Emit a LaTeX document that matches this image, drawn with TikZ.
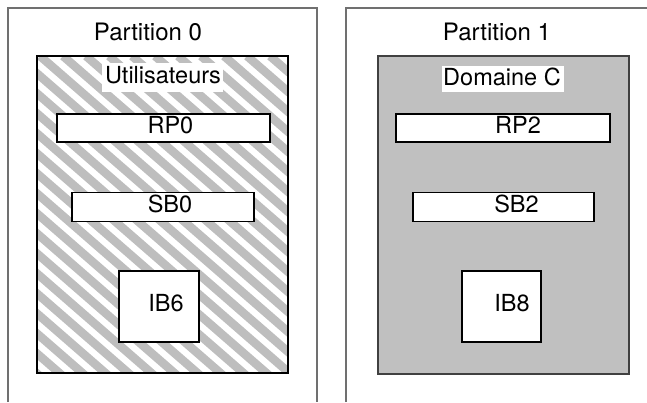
\documentclass[tikz,border=0pt]{standalone}
\usepackage{fontspec}
\setmainfont{TeX Gyre Heros}
\definecolor{stripe}{HTML}{BEBEBE}
\definecolor{domfill}{HTML}{C0C0C0}
\definecolor{outerline}{HTML}{707070}
\begin{document}
\begin{tikzpicture}[x=1pt,y=-1pt,
  outerpanel/.style={draw=outerline,line width=1.4pt},
  innerbox/.style={draw=black,line width=1.1pt,fill=white,inner sep=0pt},
  txt/.style={inner sep=0pt,anchor=base,font=\fontsize{23.5}{27}\selectfont},
  ptxt/.style={inner sep=0pt,anchor=base,font=\fontsize{24}{28}\selectfont},
  tag/.style={fill=white,draw=none,inner sep=0pt}]
\useasboundingbox (0,0) rectangle (647,402);
% outer panels (open at bottom)
\draw[outerpanel] (8,402) -- (8,8) -- (317,8) -- (317,402);
\draw[outerpanel] (346,402) -- (346,8) -- (650,8);
\node[ptxt] (p0) at (148,40) {Partition 0};
\node[ptxt] (p1) at (497,40) {Partition 1};
% hatched region
\begin{scope}
  \clip (37,56) rectangle (288,373);
  \foreach \k in {-20,...,14}{
    \draw[stripe,line width=8.5pt] (40+23*\k,56) -- ++(400,348);
  }
\end{scope}
\node[draw=black,line width=1.1pt,inner sep=0pt,minimum width=251pt,minimum height=317pt] (users) at (162.5,214.5) {};
% gray region
\node[draw=black!75,line width=1.1pt,fill=domfill,inner sep=0pt,minimum width=251pt,minimum height=318pt] (domc) at (503.5,215) {};
% tags
\node[tag,minimum width=121pt,minimum height=29pt] (utag) at (162.5,77.5) {};
\node[txt] (utxt) at (163,83.3) {Utilisateurs};
\node[tag,minimum width=122pt,minimum height=26pt] (dtag) at (503,79) {};
\node[txt] (dtxt) at (502,85) {Domaine C};
% left boxes
\node[innerbox,minimum width=213pt,minimum height=28pt] (rp0) at (163.5,128) {};
\node[txt] (rp0t) at (170.4,133.4) {RP0};
\node[innerbox,minimum width=182pt,minimum height=29pt] (sb0) at (163,207) {};
\node[txt] (sb0t) at (170,212.2) {SB0};
\node[innerbox,minimum width=80pt,minimum height=71pt] (ib6) at (159,306.5) {};
\node[txt] (ib6t) at (166,311) {IB6};
% right boxes
\node[innerbox,minimum width=214pt,minimum height=28pt] (rp2) at (503,128) {};
\node[txt] (rp2t) at (518,133.4) {RP2};
\node[innerbox,minimum width=181pt,minimum height=29pt] (sb2) at (503.5,207) {};
\node[txt] (sb2t) at (516.5,212.2) {SB2};
\node[innerbox,minimum width=79pt,minimum height=71pt] (ib8) at (501.5,306.5) {};
\node[txt] (ib8t) at (512,311) {IB8};
\end{tikzpicture}
\end{document}
